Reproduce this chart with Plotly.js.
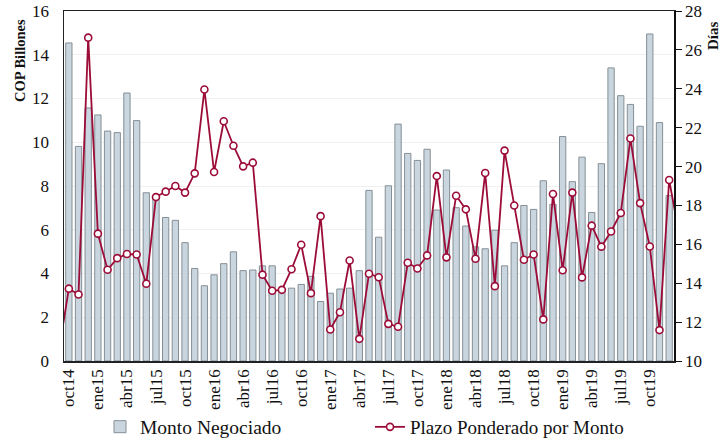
<!DOCTYPE html>
<html>
<head>
<meta charset="utf-8">
<script src="https://cdn.plot.ly/plotly-3.0.1.min.js"></script>
<style>html,body{margin:0;padding:0;background:#fff;}#chart{width:724px;height:440px;}</style>
</head>
<body>
<div id="chart"></div>
<script>
// Months shown on the category axis (sep14 .. ene20; plot window covers oct14 .. dic19)
var months = ['sep14',
 'oct14','nov14','dic14','ene15','feb15','mar15','abr15','may15','jun15','jul15','ago15','sep15',
 'oct15','nov15','dic15','ene16','feb16','mar16','abr16','may16','jun16','jul16','ago16','sep16',
 'oct16','nov16','dic16','ene17','feb17','mar17','abr17','may17','jun17','jul17','ago17','sep17',
 'oct17','nov17','dic17','ene18','feb18','mar18','abr18','may18','jun18','jul18','ago18','sep18',
 'oct18','nov18','dic18','ene19','feb19','mar19','abr19','may19','jun19','jul19','ago19','sep19',
 'oct19','nov19','dic19',
 'ene20'];

// Monto Negociado (COP Billones), oct14 .. dic19
var barMonths = months.slice(1, 64);
var montoNegociado = [
 14.54, 9.81, 11.57, 11.25, 10.51, 10.44, 12.25, 10.99, 7.69, 7.45, 6.56, 6.43,
 5.41, 4.23, 3.44, 3.94, 4.45, 4.99, 4.13, 4.16, 4.35, 4.35, 3.25, 3.33,
 3.50, 3.87, 2.72, 3.10, 3.29, 3.33, 4.13, 7.80, 5.66, 8.01, 10.83, 9.49,
 9.17, 9.68, 6.90, 8.73, 7.01, 6.17, 5.22, 5.13, 5.98, 4.35, 5.41, 7.11,
 6.93, 8.24, 7.16, 10.26, 8.20, 9.32, 6.79, 9.02, 13.40, 12.13, 11.73, 10.73,
 14.95, 10.90, 7.56];

// Plazo Ponderado por Monto (Días), sep14 .. ene20
var plazoPonderado = [10.6,
 13.72, 13.42, 26.63, 16.55, 14.69, 15.29, 15.50, 15.48, 13.97, 18.43, 18.71, 19.00,
 18.66, 19.65, 23.96, 19.72, 22.33, 21.07, 20.01, 20.20, 14.44, 13.61, 13.66, 14.72,
 15.98, 13.49, 17.45, 11.62, 12.51, 15.17, 11.14, 14.49, 14.31, 11.91, 11.76, 15.05,
 14.76, 15.43, 19.51, 15.33, 18.50, 17.80, 15.26, 19.67, 13.85, 20.82, 18.00, 15.21,
 15.48, 12.14, 18.59, 14.67, 18.66, 14.30, 16.96, 15.88, 16.66, 17.61, 21.44, 18.12,
 15.89, 11.59, 19.31,
 16.6];

var tickLabels = ['oct14','ene15','abr15','jul15','oct15','ene16','abr16','jul16','oct16','ene17',
 'abr17','jul17','oct17','ene18','abr18','jul18','oct18','ene19','abr19','jul19','oct19'];

var serif = 'Liberation Serif, Times New Roman, serif';

var traces = [
 {
  type: 'bar', name: 'Monto Negociado', x: barMonths, y: montoNegociado,
  marker: {color: '#c9d6df', line: {color: '#858f95', width: 1}},
  legend: 'legend'
 },
 {
  type: 'scatter', mode: 'lines+markers', name: 'Plazo Ponderado por Monto',
  x: months, y: plazoPonderado, yaxis: 'y2',
  line: {color: '#9c0c38', width: 1.8},
  marker: {symbol: 'circle', size: 7, color: '#ffffff', line: {color: '#9c0c38', width: 1.6}},
  legend: 'legend2'
 }
];

var layout = {
 width: 724, height: 440,
 margin: {l: 64, r: 50, t: 11, b: 79, pad: 0},
 paper_bgcolor: '#ffffff', plot_bgcolor: '#ffffff',
 bargap: 0.35,
 font: {family: serif, color: '#111', size: 17},
 showlegend: true,
 xaxis: {
  type: 'category', categoryorder: 'array', categoryarray: months,
  range: [0.5, 63.5],
  tickmode: 'array', tickvals: tickLabels, ticktext: tickLabels,
  tickangle: -90, ticks: '', showgrid: false, zeroline: false,
  showline: true, linecolor: '#222', linewidth: 1.5, mirror: true,
  tickfont: {family: serif, size: 17, color: '#111'}
 },
 yaxis: {
  range: [0, 16], dtick: 2, tick0: 0,
  showgrid: true, gridcolor: '#f0f0f0', gridwidth: 1, zeroline: false,
  showline: true, linecolor: '#222', linewidth: 1.5, ticks: '',
  ticklabelstandoff: 10,
  tickfont: {family: serif, size: 17, color: '#111'}
 },
 yaxis2: {
  overlaying: 'y', side: 'right', range: [10, 28], dtick: 2, tick0: 10,
  showgrid: false, zeroline: false,
  showline: true, linecolor: '#111', linewidth: 1.5,
  ticks: 'outside', ticklen: 6, tickcolor: '#111', tickwidth: 1,
  tickfont: {family: serif, size: 17, color: '#111'}
 },
 legend: {
  xref: 'container', yref: 'container', x: 100/724, y: 1 - 427/440,
  xanchor: 'left', yanchor: 'middle', orientation: 'h',
  bgcolor: 'rgba(0,0,0,0)', borderwidth: 0,
  font: {family: serif, size: 19.5, color: '#111'}
 },
 legend2: {
  xref: 'container', yref: 'container', x: 370/724, y: 1 - 427/440,
  xanchor: 'left', yanchor: 'middle', orientation: 'h',
  bgcolor: 'rgba(0,0,0,0)', borderwidth: 0,
  font: {family: serif, size: 19, color: '#111'}
 },
 annotations: [
  {text: '<b>COP Billones</b>', xref: 'paper', yref: 'paper', x: 0, y: 1,
   showarrow: false, textangle: -90, font: {family: serif, size: 14.5, color: '#111'},
   xanchor: 'center', yanchor: 'middle', xshift: -44, yshift: -50},
  {text: '<b>Días</b>', xref: 'paper', yref: 'paper', x: 1, y: 1,
   showarrow: false, textangle: -90, font: {family: serif, size: 15, color: '#111'},
   xanchor: 'center', yanchor: 'middle', xshift: 39, yshift: -25}
 ]
};

Plotly.newPlot('chart', traces, layout, {displayModeBar: false, staticPlot: true});
</script>
</body>
</html>
